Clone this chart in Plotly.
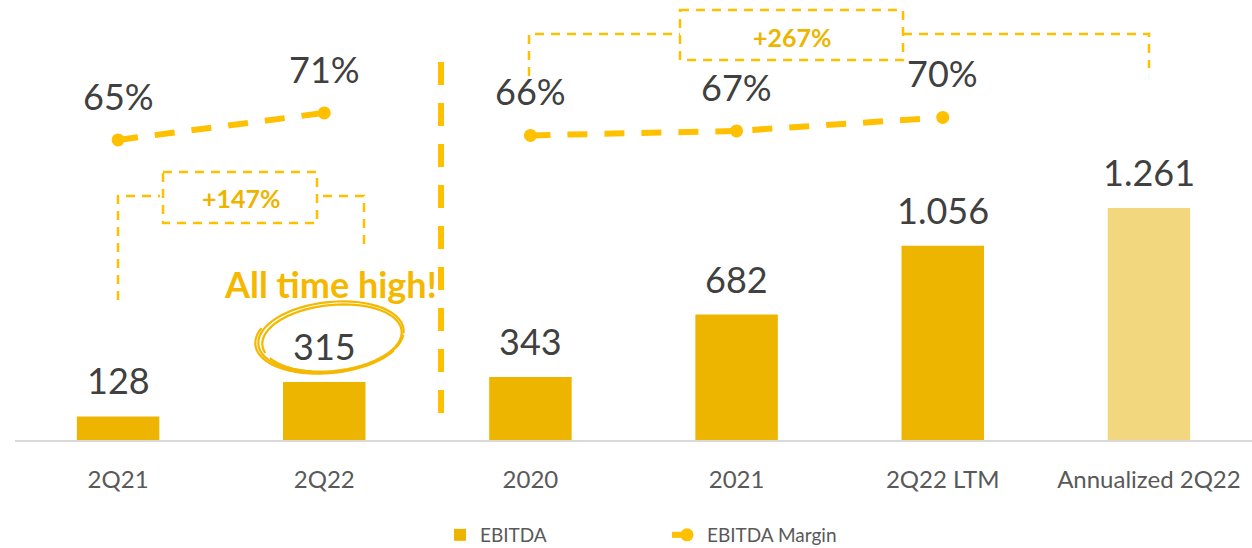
import math
import plotly.graph_objects as go

# ---------------- data ----------------
categories = ["2Q21", "2Q22", "2020", "2021", "2Q22 LTM", "Annualized 2Q22"]
ebitda = [128, 315, 343, 682, 1056, 1261]
margin_quarter_cats = ["2Q21", "2Q22"]
margin_quarter = [65, 71]
margin_year_cats = ["2020", "2021", "2Q22 LTM"]
margin_year = [66, 67, 70]
growth_labels = ["+147%", "+267%"]

# ---------------- style ----------------
W, H = 1252, 548
ML, MR, MT, MB = 15, 0, 0, 108
PW, PH = W - ML - MR, H - MT - MB
GOLD = "#EDB500"
GOLD_LIGHT = "#F3D77F"
LINE = "#FFC000"
TXT = "#404040"
TICK = "#595959"
FONT = "Lato"

bar_colors = [GOLD] * (len(categories) - 1) + [GOLD_LIGHT]


def fmt(v):
    return f"{v:,}".replace(",", ".")


def pxx(x):
    return (x - ML) / PW


def pxy(y):
    return (MT + PH - y) / PH


fig = go.Figure()

fig.add_trace(go.Bar(
    x=categories, y=ebitda, name="EBITDA",
    marker=dict(color=bar_colors, line=dict(width=0)),
    showlegend=True,
))

line_style = dict(color=LINE, width=6, dash="20px,17px")
marker_style = dict(color=LINE, size=13, symbol="circle")
fig.add_trace(go.Scatter(
    x=margin_quarter_cats, y=margin_quarter, yaxis="y2", name="EBITDA Margin",
    mode="lines+markers", line=line_style, marker=marker_style,
    legendgroup="m", showlegend=True,
))
fig.add_trace(go.Scatter(
    x=margin_year_cats, y=margin_year, yaxis="y2", name="EBITDA Margin",
    mode="lines+markers", line=line_style, marker=marker_style,
    legendgroup="m", showlegend=False,
))

annotations = []
for c, v in zip(categories, ebitda):
    annotations.append(dict(x=categories.index(c), y=v, xref="x", yref="y",
                            text=fmt(v), showarrow=False, xanchor="center",
                            yanchor="middle", yshift=36,
                            font=dict(family=FONT, size=36, color=TXT)))
for c, v in zip(margin_quarter_cats + margin_year_cats, margin_quarter + margin_year):
    annotations.append(dict(x=categories.index(c), y=v, xref="x", yref="y2",
                            text=f"{v}%", showarrow=False, xanchor="center",
                            yanchor="middle", yshift=44,
                            font=dict(family=FONT, size=36, color=TXT)))

common = dict(xref="paper", yref="paper", showarrow=False,
              xanchor="center", yanchor="middle")
annotations.append(dict(x=pxx(241), y=pxy(198), text=f"<b>{growth_labels[0]}</b>",
                        font=dict(family=FONT, size=25, color=GOLD), **common))
annotations.append(dict(x=pxx(792), y=pxy(37), text=f"<b>{growth_labels[1]}</b>",
                        font=dict(family=FONT, size=25, color=GOLD), **common))
annotations.append(dict(x=pxx(330), y=pxy(284), text="<b>All time high!</b>",
                        font=dict(family=FONT, size=36, color="#F5B800"), **common))

shapes = []
dash_thin = dict(color=LINE, width=2.5, dash="9px,7px")


def path(points):
    s = ""
    for i, (x, y) in enumerate(points):
        s += ("M" if i == 0 else "L") + f"{pxx(x):.5f},{pxy(y):.5f}"
    return s


for pts in ([(118, 300), (118, 196), (160, 196)],
            [(323, 196), (364, 196), (364, 245)],
            [(529, 76), (529, 34), (680, 34)],
            [(903, 34), (1149, 34), (1149, 68)]):
    shapes.append(dict(type="path", xref="paper", yref="paper", path=path(pts),
                       line=dash_thin))
for x0, x1, y0, y1 in ((163, 317, 172, 223), (680, 903, 10, 60)):
    shapes.append(dict(type="rect", xref="paper", yref="paper",
                       x0=pxx(x0), x1=pxx(x1), y0=pxy(y0), y1=pxy(y1),
                       line=dash_thin))

shapes.append(dict(type="line", xref="paper", yref="paper",
                   x0=pxx(441), x1=pxx(441), y0=pxy(62), y1=pxy(418),
                   line=dict(color=LINE, width=6, dash="23px,18px")))

cx, cy = 331, 337
rot = math.radians(-6)
for rx, ry, a0, a1, dx, dy in [(73, 35, 0.15, 6.4, 0, 0),
                               (70, 33, 2.9, 9.0, 1, 1),
                               (75, 36, 0.6, 3.6, -1, 0)]:
    pts = []
    n = 60
    for i in range(n + 1):
        t = a0 + (a1 - a0) * i / n
        ex = rx * math.cos(t)
        ey = ry * math.sin(t)
        x = cx + dx + ex * math.cos(rot) - ey * math.sin(rot)
        y = cy + dy + ex * math.sin(rot) + ey * math.cos(rot)
        pts.append((x, y))
    shapes.append(dict(type="path", xref="paper", yref="paper", path=path(pts),
                       line=dict(color="#F5B800", width=2.2)))

fig.update_layout(
    width=W, height=H,
    margin=dict(l=ML, r=MR, t=MT, b=MB, autoexpand=False),
    paper_bgcolor="white", plot_bgcolor="white",
    font=dict(family=FONT, color=TXT),
    bargap=0.6,
    xaxis=dict(type="category", categoryorder="array", categoryarray=categories,
               range=[-0.5, len(categories) - 0.5],
               showgrid=False, zeroline=False, showline=True,
               linecolor="#D9D9D9", linewidth=2, ticks="",
               tickfont=dict(family=FONT, size=24, color=TICK),
               ticklabelstandoff=17),
    yaxis=dict(range=[0, 2391], visible=False, showgrid=False, zeroline=False),
    yaxis2=dict(range=[-1.7, 96.1], overlaying="y", visible=False,
                showgrid=False, zeroline=False),
    legend=dict(orientation="h", x=pxx(440), xanchor="left", y=pxy(535),
                yanchor="middle", font=dict(family=FONT, size=19, color=TICK),
                entrywidth=182, traceorder="normal"),
    annotations=annotations,
    shapes=shapes,
)

fig.write_html("out.html")
